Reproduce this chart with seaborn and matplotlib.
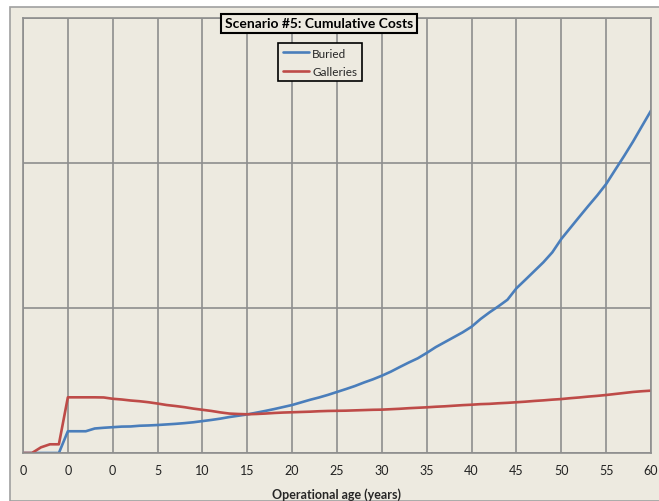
import numpy as np
import pandas as pd
import seaborn as sns
import matplotlib
matplotlib.use('Agg')
import matplotlib.pyplot as plt
from matplotlib.patches import Rectangle

# cumulative costs per year (arbitrary units, one gridline = 100)
years = list(range(71))
tick_labels = ['0', '0', '0', '5', '10', '15', '20', '25', '30',
               '35', '40', '45', '50', '55', '60']

buried = [0, 0, 0, 0, 0, 15.0, 15.0, 15.0, 16.9, 17.4,
          17.8, 18.2, 18.3, 18.8, 19.0, 19.3, 19.7, 20.1, 20.6, 21.2,
          22.0, 22.8, 23.7, 24.8, 25.7, 26.6, 27.8, 29.0, 30.3, 31.7,
          33.1, 34.9, 36.7, 38.3, 40.1, 42.1, 44.1, 46.2, 48.6, 50.8,
          53.3, 56.1, 59.3, 62.4, 65.3, 69.0, 73.0, 76.4, 79.8, 83.2,
          87.1, 92.4, 97.0, 101.2, 105.7, 113.6, 119.5, 125.5, 131.5, 138.4,
          147.6, 155.2, 162.8, 170.3, 177.6, 185.5, 195.2, 204.8, 214.8, 225.5,
          236.1]

galleries = [0, 0, 3.9, 6.0, 6.0, 38.4, 38.4, 38.4, 38.4, 38.3,
             37.4, 36.9, 36.2, 35.7, 35.0, 34.1, 33.1, 32.4, 31.6, 30.6,
             29.8, 29.0, 28.0, 27.2, 26.9, 26.7, 26.9, 27.2, 27.6, 27.9,
             28.1, 28.3, 28.5, 28.8, 29.0, 29.1, 29.2, 29.4, 29.6, 29.8,
             29.9, 30.2, 30.5, 30.9, 31.2, 31.5, 31.9, 32.2, 32.6, 33.0,
             33.3, 33.7, 33.9, 34.3, 34.6, 35.0, 35.4, 35.9, 36.3, 36.8,
             37.2, 37.8, 38.3, 38.9, 39.4, 40.0, 40.7, 41.4, 42.1, 42.6,
             43.0]

df = pd.DataFrame({'year': years * 2,
                   'cost': buried + galleries,
                   'series': ['Buried'] * len(years) + ['Galleries'] * len(years)})

beige = '#EDEAE0'
grid = '#8E8E8E'
palette = {'Buried': '#4A7EBB', 'Galleries': '#BE4B48'}

sns.set_style('white')
plt.rcParams['font.family'] = ['Lato', 'DejaVu Sans']

fig = plt.figure(figsize=(6.59, 5.02), dpi=100, facecolor='white')
# chart area background, behind the axes
fig.patches.append(Rectangle((10 / 659, 0), 1, 1 - 8 / 502, transform=fig.transFigure,
                             facecolor=beige, edgecolor='#A0A0A0', lw=1.2, zorder=-10))

ax = fig.add_axes([23 / 659, 1 - 454 / 502, 628 / 659, 435 / 502])
ax.set_zorder(1)
ax.set_facecolor(beige)

sns.lineplot(data=df, x='year', y='cost', hue='series', palette=palette,
             linewidth=1.9, ax=ax, legend=False)

ax.set_xlim(0, 70)
ax.set_ylim(0, 300)
ax.set_xticks(range(0, 71, 5))
ax.set_xticklabels(tick_labels, fontsize=9, color='#222222')
ax.set_yticks([0, 100, 200, 300])
ax.set_yticklabels([])
ax.grid(True, color=grid, lw=1.2)
ax.set_axisbelow(True)
ax.tick_params(axis='x', length=0, pad=8)
ax.tick_params(axis='y', length=4, color=grid, width=1.2, direction='out')
for side in ['left', 'bottom', 'top', 'right']:
    ax.spines[side].set_color(grid)
    ax.spines[side].set_linewidth(1.2)

ax.set_xlabel('Operational age (years)', fontsize=9, fontweight='bold', labelpad=8)
ax.set_ylabel('')

fig.text(319 / 659, 1 - 24.5 / 502, 'Scenario #5: Cumulative Costs', ha='center', va='center',
         fontsize=10, fontweight='bold', color='black', zorder=5,
         bbox=dict(boxstyle='square,pad=0.25', fc=beige, ec='black', lw=1.5))

handles = [plt.Line2D([], [], color=palette[k], lw=1.9) for k in ['Buried', 'Galleries']]
leg = ax.legend(handles, ['Buried', 'Galleries'], loc='upper center',
                bbox_to_anchor=(320 / 659, 1 - 38 / 502), bbox_transform=fig.transFigure,
                fontsize=8.5, frameon=True, fancybox=False, handlelength=2.2,
                handletextpad=0.3, labelspacing=0.6, borderpad=0.4)
leg.get_frame().set_edgecolor('black')
leg.get_frame().set_linewidth(1.2)
leg.get_frame().set_facecolor(beige)
leg.get_frame().set_alpha(1)

fig.savefig('out.png', dpi=100, facecolor=fig.get_facecolor())
